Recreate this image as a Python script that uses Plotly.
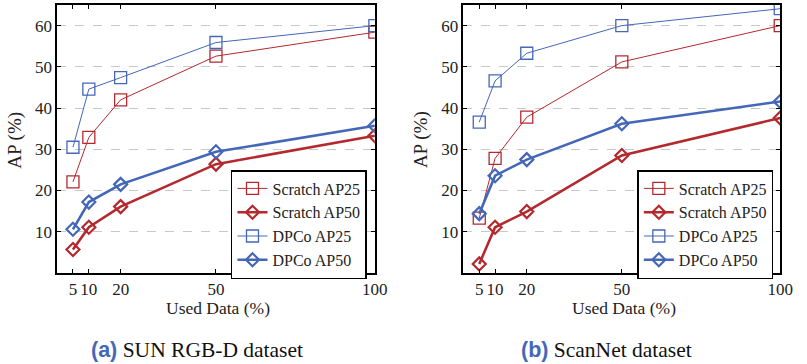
import plotly.graph_objects as go

used_data = [5, 10, 20, 50, 100]

sun_scratch_ap25 = [22.1, 32.9, 42.0, 52.6, 58.4]
sun_scratch_ap50 = [5.7, 11.1, 16.1, 26.4, 33.3]
sun_dpco_ap25 = [30.5, 44.6, 47.4, 55.9, 60.0]
sun_dpco_ap50 = [10.6, 17.2, 21.5, 29.4, 35.7]

scan_scratch_ap25 = [13.3, 27.8, 37.8, 51.2, 60.0]
scan_scratch_ap50 = [2.2, 11.1, 14.9, 28.5, 37.6]
scan_dpco_ap25 = [36.6, 46.6, 53.3, 60.0, 64.1]
scan_dpco_ap50 = [14.4, 23.6, 27.5, 36.2, 41.6]

y_ticks = [10, 20, 30, 40, 50, 60]
series_names = ["Scratch AP25", "Scratch AP50", "DPCo AP25", "DPCo AP50"]
captions = ["SUN RGB-D dataset", "ScanNet dataset"]
caption_tags = ["(a)", "(b)"]

RED = "#B3292E"
BLUE = "#4467B8"
W, H = 807, 364
SERIF = "Liberation Serif"

fig = go.Figure()

panels = [
    (sun_scratch_ap25, sun_scratch_ap50, sun_dpco_ap25, sun_dpco_ap50),
    (scan_scratch_ap25, scan_scratch_ap50, scan_dpco_ap25, scan_dpco_ap50),
]
# plot-area pixel boxes (left, right, top, bottom)
boxes = [(58, 381, 5, 273), (471, 793, 5, 273)]

for i, (data, box) in enumerate(zip(panels, boxes)):
    xa = "x" if i == 0 else "x2"
    ya = "y" if i == 0 else "y2"
    lg = "legend" if i == 0 else "legend2"
    styles = [
        (RED, 1.0, "square-open", 12, 1.3),
        (RED, 2.6, "diamond-open", 10, 2.2),
        (BLUE, 1.0, "square-open", 12, 1.3),
        (BLUE, 2.6, "diamond-open", 10, 2.2),
    ]
    for vals, name, (col, lw, sym, ms, mlw) in zip(data, series_names, styles):
        fig.add_trace(go.Scatter(
            x=used_data, y=vals, name=name, mode="lines+markers",
            line=dict(color=col, width=lw),
            marker=dict(symbol=sym, size=ms, color=col, line=dict(color=col, width=mlw)),
            xaxis=xa, yaxis=ya, legend=lg,
        ))

def px_dom_x(a, b):
    return [a / W, b / W]

def px_dom_y(top, bottom):
    return [1 - bottom / H, 1 - top / H]

axis_common_x = dict(
    range=[0, 100], tickvals=used_data, ticks="inside", ticklen=4, tickcolor="black",
    showline=True, linecolor="black", linewidth=1.5, mirror="allticks",
    showgrid=False, zeroline=False, tickfont=dict(family=SERIF, size=17, color="#222"),
    fixedrange=True,
)
axis_common_y = dict(
    range=[0, 65], tickvals=y_ticks, ticks="inside", ticklen=4, tickcolor="black",
    showline=True, linecolor="black", linewidth=1.5, mirror="allticks",
    showgrid=True, gridcolor="#C8C8C8", griddash="dash", gridwidth=1, zeroline=False,
    tickfont=dict(family=SERIF, size=17, color="#222"), fixedrange=True,
)

l0, r0, t0, b0 = boxes[0]
l1, r1, t1, b1 = boxes[1]
fig.update_layout(
    width=W, height=H, margin=dict(l=0, r=0, t=0, b=0),
    plot_bgcolor="white", paper_bgcolor="white",
    xaxis=dict(domain=px_dom_x(l0, r0), anchor="y", **axis_common_x),
    yaxis=dict(domain=px_dom_y(t0, b0), anchor="x", **axis_common_y),
    xaxis2=dict(domain=px_dom_x(l1, r1), anchor="y2", **axis_common_x),
    yaxis2=dict(domain=px_dom_y(t1, b1), anchor="x2", **axis_common_y),
    showlegend=True,
)

legend_common = dict(
    bgcolor="white", bordercolor="black", borderwidth=1.5,
    font=dict(family=SERIF, size=16, color="#222"),
    xanchor="right", yanchor="top", tracegroupgap=0, itemwidth=30,
    xref="paper", yref="paper",
)
fig.update_layout(
    legend=dict(x=373 / W, y=1 - 170 / H, **legend_common),
    legend2=dict(x=786 / W, y=1 - 170 / H, **legend_common),
)

annotations = []
for i, (l, r, t, b) in enumerate(boxes):
    cx = (l + r) / 2
    annotations.append(dict(
        text="Used Data (%)", x=cx / W + 0.003, y=1 - 308 / H, xref="paper", yref="paper",
        showarrow=False, xanchor="center", yanchor="middle",
        font=dict(family=SERIF, size=17.5, color="#222"),
    ))
    annotations.append(dict(
        text="AP (%)", x=(l - 43) / W, y=1 - 140 / H, xref="paper", yref="paper",
        showarrow=False, xanchor="center", yanchor="middle", textangle=-90,
        font=dict(family=SERIF, size=19, color="#222"),
    ))
cap_centers = [200, 616]
for tag, cap, cxp in zip(caption_tags, captions, cap_centers):
    annotations.append(dict(
        text=f"<b><span style='font-family:Liberation Sans;color:{BLUE}'>{tag}</span></b> {cap}",
        x=cxp / W, y=1 - 350 / H, xref="paper", yref="paper",
        showarrow=False, xanchor="center", yanchor="middle",
        font=dict(family=SERIF, size=21.5, color="#111"),
    ))
fig.update_layout(annotations=annotations)

fig.write_html("out.html")
